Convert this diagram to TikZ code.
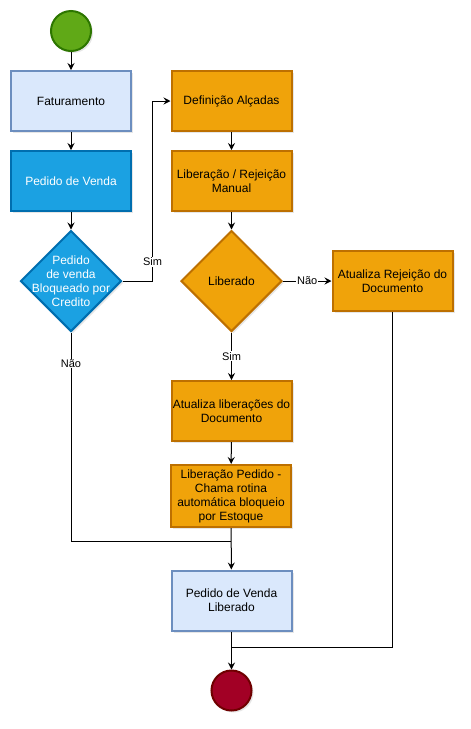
\documentclass[tikz,border=0pt]{standalone}
\usepackage{fontspec}
\setmainfont{Liberation Sans}
\usepackage{tikz}
\usetikzlibrary{calc,shapes.geometric,arrows.meta,shadows,positioning}
\definecolor{azulclaro}{HTML}{DAE8FC}
\definecolor{azulclarob}{HTML}{6C8EBF}
\definecolor{azul}{HTML}{1BA1E2}
\definecolor{azulb}{HTML}{006EAF}
\definecolor{laranja}{HTML}{F0A30A}
\definecolor{laranjab}{HTML}{BD7000}
\definecolor{verde}{HTML}{60A917}
\definecolor{verdeb}{HTML}{2D7600}
\definecolor{vermelho}{HTML}{A20025}
\definecolor{vermelhob}{HTML}{6F0000}
\tikzstyle{sombra}=[drop shadow={shadow xshift=2pt,shadow yshift=-2pt,opacity=0.2}]
\tikzstyle{caixa}=[rectangle,draw,line width=2pt,minimum width=120pt,minimum height=60pt,inner sep=0pt,align=center,font=\fontsize{12}{14}\selectfont,sombra]
\tikzstyle{decisao}=[diamond,draw,line width=2pt,minimum width=101pt,minimum height=101pt,inner sep=0pt,sombra]
\tikzstyle{circulo}=[circle,draw,line width=2pt,minimum size=40pt,inner sep=0pt,sombra]
\tikzstyle{seta}=[-{Stealth[length=7pt,width=7pt,inset=2.5pt]},line width=1pt]
\tikzstyle{linha}=[line width=1pt]
\tikzstyle{rotulo}=[fill=white,inner sep=0.8pt,font=\fontsize{11}{12}\selectfont]

\begin{document}
\begin{tikzpicture}[x=1pt,y=-1pt]
  \useasboundingbox (0,0) rectangle (471,729);

  % coluna da esquerda
  \node[circulo,fill=verde,draw=verdeb] (inicio) at (71,31) {};
  \node[caixa,fill=azulclaro,draw=azulclarob] (fat) at (71,101) {Faturamento};
  \node[caixa,fill=azul,draw=azulb,text=white] (pv) at (71,181) {Pedido de Venda};
  \node[decisao,fill=azul,draw=azulb] (cred) at (71,281) {};
  \node[align=center,text=white,font=\fontsize{12}{14}\selectfont] (credtxt) at (cred) {Pedido\\de venda\\Bloqueado por\\Credito};

  % coluna do meio
  \node[caixa,fill=laranja,draw=laranjab] (def) at (231.5,101) {Definição Alçadas};
  \node[caixa,fill=laranja,draw=laranjab] (man) at (231.5,181) {Liberação / Rejeição\\Manual};
  \node[decisao,fill=laranja,draw=laranjab] (lib) at (231.5,281) {};
  \node[font=\fontsize{12}{14}\selectfont] (libtxt) at (lib) {Liberado};
  \node[caixa,fill=laranja,draw=laranjab] (atlib) at (231.5,411) {Atualiza liberações do\\Documento};
  \node[caixa,fill=laranja,draw=laranjab,minimum height=62pt] (libped) at (231,496) {Liberação Pedido -\\Chama rotina\\automática bloqueio\\por Estoque};
  \node[caixa,fill=azulclaro,draw=azulclarob] (pvl) at (231.5,600.5) {Pedido de Venda\\Liberado};
  \node[circulo,fill=vermelho,draw=vermelhob] (fim) at (231.5,690.5) {};

  % coluna da direita
  \node[caixa,fill=laranja,draw=laranjab] (rej) at (392.5,281) {Atualiza Rejeição do\\Documento};

  % ligacoes
  \coordinate (j1) at ($(libped.south)!0.33!(pvl.north)$);
  \coordinate (j2) at ($(pvl.south)!0.41!(fim.north)$);

  \draw[seta] (inicio) -- (fat);
  \draw[seta] (fat) -- (pv);
  \draw[seta] (pv) -- (cred);
  \draw[seta] (cred.east) -- ++(30,0) |- node[rotulo,pos=0.053] {Sim} (def.west);
  \draw[linha] (cred.south) |- node[rotulo,pos=0.074] {Não} (j1);
  \draw[seta] (def) -- (man);
  \draw[seta] (man) -- (lib);
  \draw[seta] (lib.east) -- node[rotulo] {Não} (rej.west);
  \draw[seta] (lib.south) -- node[rotulo] {Sim} (atlib.north);
  \draw[seta] (atlib) -- (libped);
  \draw[seta] (libped) -- (pvl);
  \draw[linha] (rej.south) |- (j2);
  \draw[seta] (pvl) -- (fim);
\end{tikzpicture}
\end{document}
